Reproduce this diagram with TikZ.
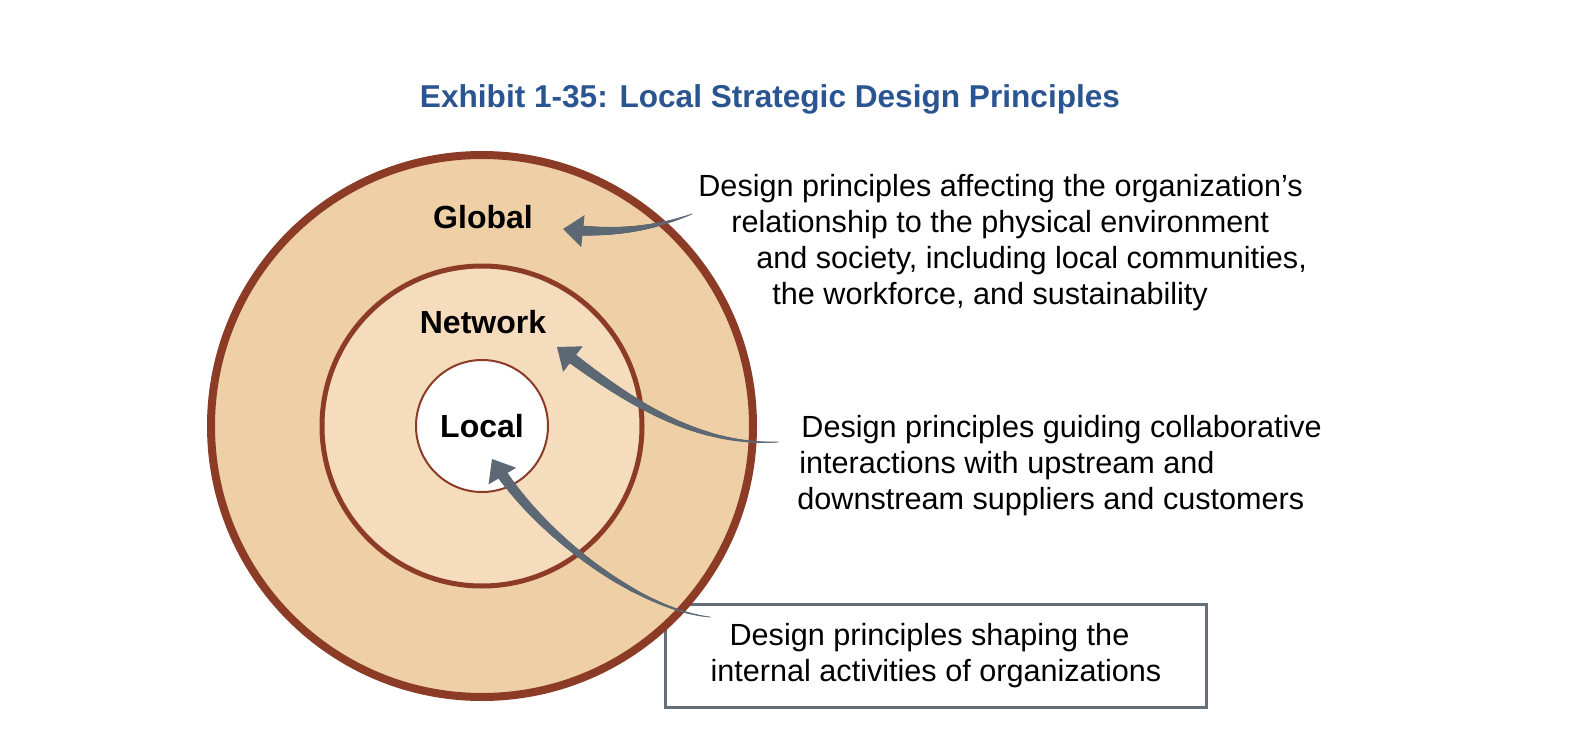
\documentclass[tikz,border=0pt]{standalone}
\usepackage{fontspec}
\setmainfont{Liberation Sans}
\usepackage{tikz}
\usetikzlibrary{calc,arrows.meta,decorations.markings}
\definecolor{ex-title}{HTML}{2A5590}
\definecolor{ex-rim}{HTML}{8C3C26}
\definecolor{ex-outer}{HTML}{EFCFA5}
\definecolor{ex-inner}{HTML}{F4DCBD}
\definecolor{ex-arrow}{HTML}{5C6874}
\definecolor{ex-box}{HTML}{646E78}

\begin{document}
\begin{tikzpicture}[x=0.5pt, y=-0.5pt,
    ring/.style={circle, draw=ex-rim, inner sep=0pt},
    zone/.style={font=\fontsize{16}{19}\selectfont\bfseries, inner sep=0pt},
    desc/.style={font=\fontsize{15.3}{18}\selectfont, align=left, inner sep=0pt},
    taper/.style={decoration={markings,
        mark=between positions 0 and -6pt step 0.3pt with {
          \pgfmathsetmacro\tapr{0.25+2.6*\pgfkeysvalueof{/pgf/decoration/mark info/distance from start}/\pgfdecoratedpathlength}
          \fill[ex-arrow] (0,0) circle (\tapr pt);}},
      decorate},
    tip/.style={draw=ex-arrow, line width=0.5pt, -{Triangle[length=10pt,width=16pt]}}]
    \useasboundingbox (0,0) rectangle (1586,738);
    \fill[white] (0,0) rectangle (1586,738);

    \node[font=\fontsize{15.8}{19}\selectfont\bfseries, text=ex-title] (title) at (770,99) {Exhibit 1-35: Local Strategic Design Principles};

    % box behind the rings
    \node[draw=ex-box, line width=1.5pt, fill=white, minimum width=270.5pt, minimum height=51.5pt,
          desc, anchor=north west] (boxtext) at (664,603)
          {\hspace*{9.5pt}Design principles shaping the\\internal activities of organizations};

    % the three rings
    \node[ring, line width=4pt, fill=ex-outer, minimum size=271pt] (globe) at (482,426) {};
    \node[ring, line width=2.5pt, fill=ex-inner, minimum size=160pt] (net) at (482,426) {};
    \node[ring, line width=1pt, fill=white, minimum size=66pt] (loc) at (482,426) {};

    \node[zone] (global) at (483,217) {Global};
    \node[zone] (network) at (483,322) {Network};
    \node[zone] (local) at (482,426) {Local};

    \node[desc, anchor=north west] (gtext) at (698,174)
        {Design principles affecting the organization’s\\
         \hspace*{16.5pt}relationship to the physical environment\\
         \hspace*{29pt}and society, including local communities,\\
         \hspace*{37pt}the workforce, and sustainability};
    \node[desc, anchor=north west] (ntext) at (797,415)
        {\hspace*{2pt}Design principles guiding collaborative\\
         \hspace*{1pt}interactions with upstream and\\
         downstream suppliers and customers};

    % arrows
    \coordinate (gtail) at (692,214);
    \coordinate (gc) at (610,234);
    \coordinate (ghead) at (563,229);
    \coordinate (ntail) at (778,442);
    \coordinate (nc) at (620,395);
    \coordinate (nhead) at (557,347);
    \coordinate (ltail) at (710,617);
    \coordinate (lc) at (538,535);
    \coordinate (lhead) at (492,459);
    \path[taper] (gtail) .. controls (650,230) and (gc) .. (ghead);
    \path[taper] (ntail) .. controls (690,446) and (nc) .. (nhead);
    \path[taper] (ltail) .. controls (640,610) and (lc) .. (lhead);
    \draw[tip] ($(ghead)!2pt!(gc)$) -- (ghead);
    \draw[tip] ($(nhead)!2pt!(nc)$) -- (nhead);
    \draw[tip] ($(lhead)!2pt!(lc)$) -- (lhead);
\end{tikzpicture}
\end{document}
